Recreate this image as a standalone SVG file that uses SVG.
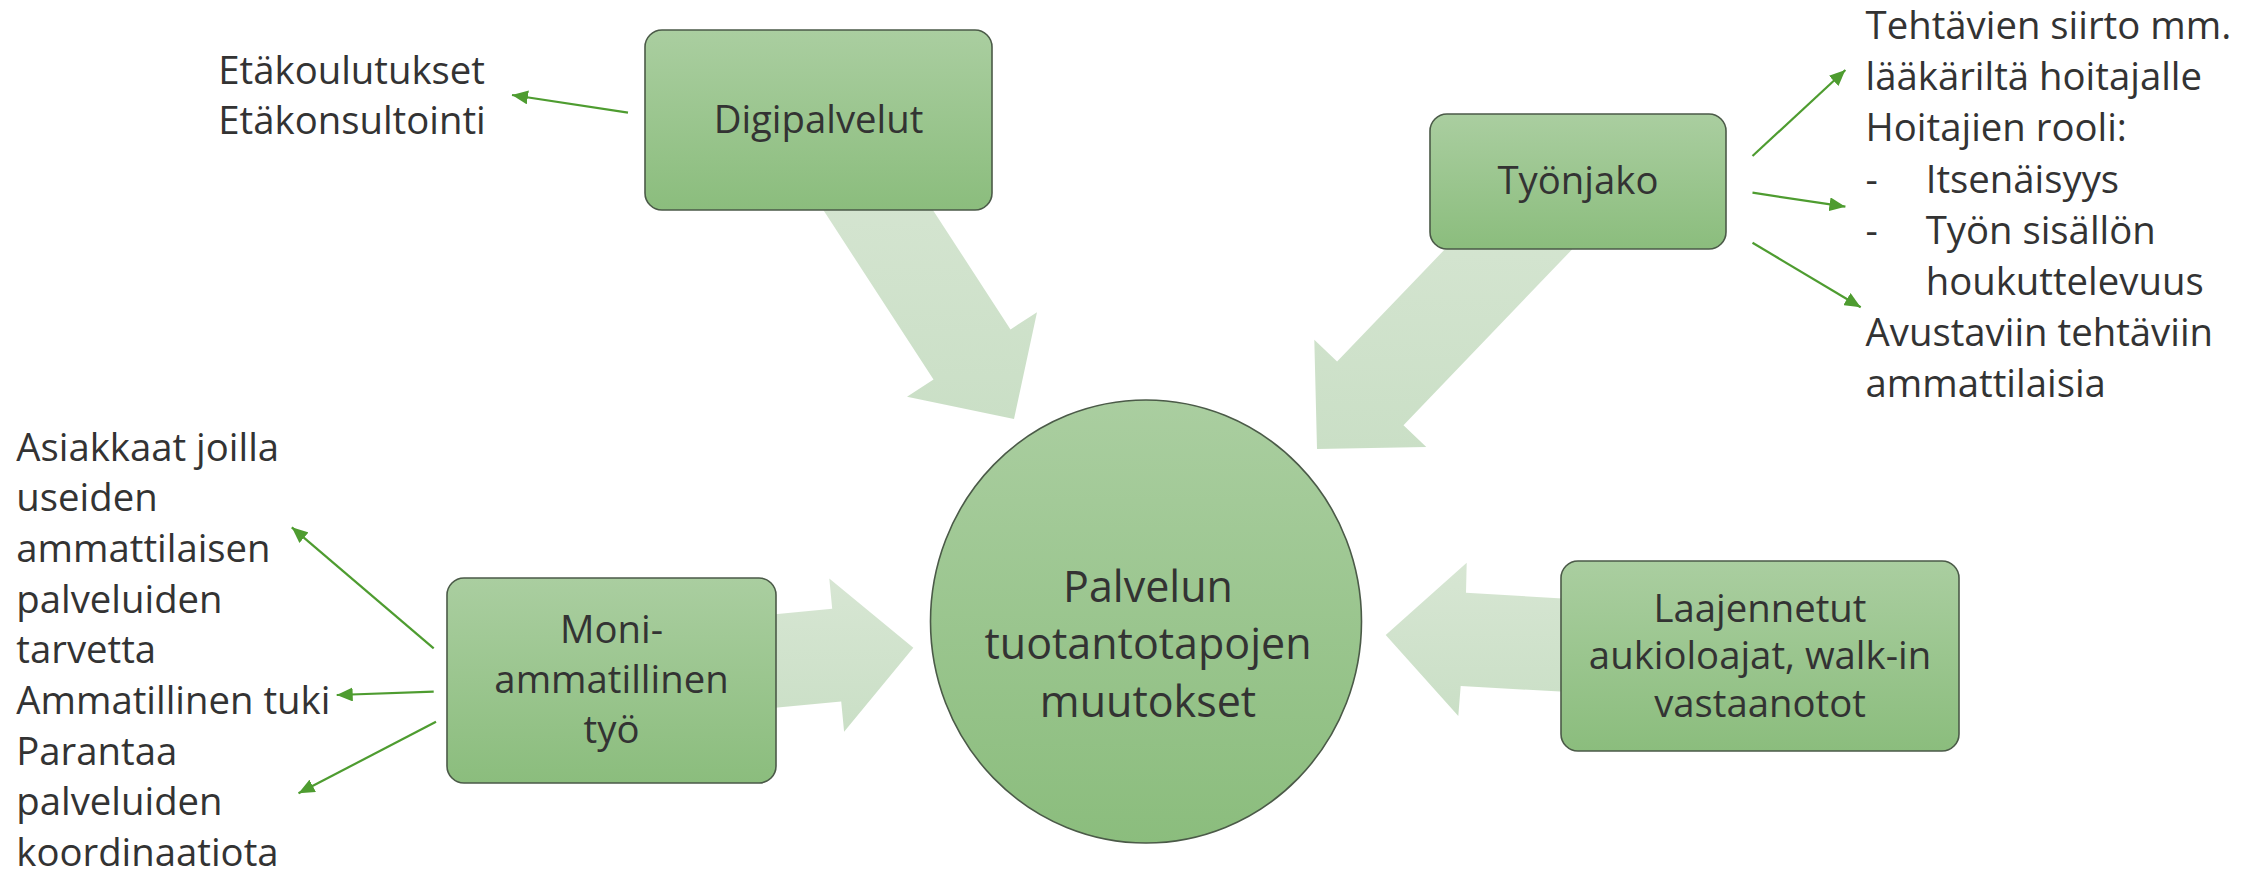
<svg xmlns="http://www.w3.org/2000/svg" width="2257" height="876" viewBox="0 0 2257 876">
  <defs>
    <linearGradient id="nodeFill" x1="0" y1="0" x2="0" y2="1">
      <stop offset="0" stop-color="#aacea0"/>
      <stop offset="1" stop-color="#8bbd7d"/>
    </linearGradient>
    <linearGradient id="blockFill" x1="0" y1="0" x2="0" y2="1">
      <stop offset="0" stop-color="#d7e6d3"/>
      <stop offset="1" stop-color="#cadfc6"/>
    </linearGradient>
    <marker id="head" markerUnits="userSpaceOnUse" markerWidth="18" markerHeight="14" refX="16" refY="7" orient="auto">
      <path d="M0,0 L16,7 L0,14 Z" fill="#4e9c30"/>
    </marker>
    <style>
      .node { fill: url(#nodeFill); stroke: #4b5a48; stroke-width: 1.6; }
      .block { fill: url(#blockFill); stroke: none; }
      .thin { stroke: #4e9c30; stroke-width: 2.2; fill: none; marker-end: url(#head); }
      text { font-family: "Open Sans", "Noto Sans", "Liberation Sans", sans-serif; fill: #333333; }
      .label { font-size: 38.3px; text-anchor: middle; }
      .hub { font-size: 43px; text-anchor: middle; }
      .side { font-size: 38.3px; }
    </style>
  </defs>
  <rect width="2257" height="876" fill="#ffffff"/>

  <!-- connectors: broad block arrows into the hub and thin callout arrows -->
  <g id="connectors">
    <polygon class="block" points="807.1,185.1 933.5,379.6 907,396.7 1014,419 1037,312.3 1010.5,329.4 884.1,134.9"/>
    <polygon class="block" points="1522.6,168.2 1337.1,361.6 1314.3,339.8 1317,449 1426.3,447 1403.5,425.2 1589,231.8"/>
    <polygon class="block" points="755.5,616.2 832.2,608.8 829.3,578.5 913.3,647.7 844.1,731.7 841.2,701.4 764.5,708.8"/>
    <polygon class="block" points="1592.7,600.3 1466,592.7 1466.7,562.7 1385.7,635 1458.3,716 1460.7,686 1587.3,693.1"/>

    <line class="thin" x1="628" y1="112.7" x2="512" y2="95"/>
    <line class="thin" x1="1752.5" y1="156" x2="1845.4" y2="70"/>
    <line class="thin" x1="1752.5" y1="192.7" x2="1845.4" y2="206.7"/>
    <line class="thin" x1="1752.5" y1="242.7" x2="1860.7" y2="307.3"/>
    <line class="thin" x1="433.7" y1="648.3" x2="291.8" y2="527.3"/>
    <line class="thin" x1="433.7" y1="691.7" x2="336.7" y2="695"/>
    <line class="thin" x1="436" y1="721.7" x2="298.5" y2="793.3"/>
  </g>

  <g id="hub">
    <ellipse class="node" cx="1146" cy="621.5" rx="215.5" ry="221.5"/>
    <text class="hub" x="1148" y="601.7">Palvelun</text>
    <text class="hub" x="1148" y="659.3">tuotantotapojen</text>
    <text class="hub" x="1148" y="717.3">muutokset</text>
  </g>

  <g id="digipalvelut">
    <rect class="node" x="645" y="30" width="347" height="180" rx="17"/>
    <text class="label" x="818.5" y="133">Digipalvelut</text>
  </g>

  <g id="tyonjako">
    <rect class="node" x="1430" y="114" width="296" height="135" rx="17"/>
    <text class="label" x="1578" y="194">Työnjako</text>
  </g>

  <g id="moniammatillinen">
    <rect class="node" x="447" y="578" width="329" height="205" rx="17"/>
    <text class="label" x="611.5" y="643">Moni-</text>
    <text class="label" x="611.5" y="693">ammatillinen</text>
    <text class="label" x="611.5" y="742.7">työ</text>
  </g>

  <g id="laajennetut">
    <rect class="node" x="1561" y="561" width="398" height="190" rx="17"/>
    <text class="label" x="1760" y="621.7">Laajennetut</text>
    <text class="label" x="1760" y="669">aukioloajat, walk-in</text>
    <text class="label" x="1760" y="716.7">vastaanotot</text>
  </g>

  <g id="digi-notes">
    <text class="side" x="218.3" y="84">Etäkoulutukset</text>
    <text class="side" x="218.3" y="134">Etäkonsultointi</text>
  </g>

  <g id="tyonjako-notes">
    <text class="side" x="1865.6" y="39">Tehtävien siirto mm.</text>
    <text class="side" x="1865.6" y="90.2">lääkäriltä hoitajalle</text>
    <text class="side" x="1865.6" y="141.4">Hoitajien rooli:</text>
    <text class="side" x="1865.6" y="192.6">-</text>
    <text class="side" x="1925.7" y="192.6">Itsenäisyys</text>
    <text class="side" x="1865.6" y="243.8">-</text>
    <text class="side" x="1925.7" y="243.8">Työn sisällön</text>
    <text class="side" x="1925.7" y="295">houkuttelevuus</text>
    <text class="side" x="1865.6" y="346.2">Avustaviin tehtäviin</text>
    <text class="side" x="1865.6" y="397.4">ammattilaisia</text>
  </g>

  <g id="moni-notes">
    <text class="side" x="16.3" y="460.5">Asiakkaat joilla</text>
    <text class="side" x="16.3" y="511.2">useiden</text>
    <text class="side" x="16.3" y="561.9">ammattilaisen</text>
    <text class="side" x="16.3" y="612.6">palveluiden</text>
    <text class="side" x="16.3" y="663.3">tarvetta</text>
    <text class="side" x="16.3" y="714">Ammatillinen tuki</text>
    <text class="side" x="16.3" y="764.7">Parantaa</text>
    <text class="side" x="16.3" y="815.4">palveluiden</text>
    <text class="side" x="16.3" y="866.1">koordinaatiota</text>
  </g>
</svg>
